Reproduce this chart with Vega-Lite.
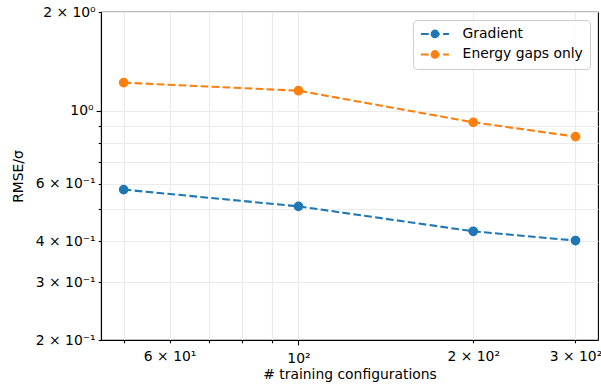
{
  "$schema": "https://vega.github.io/schema/vega-lite/v6.json",
  "width": 497,
  "height": 328,
  "autosize": {"type": "none"},
  "padding": {"left": 101, "top": 12, "right": 3, "bottom": 50},
  "config": {
    "font": "DejaVu Sans",
    "view": {"stroke": "black", "strokeWidth": 1.1},
    "axis": {
      "domainColor": "black",
      "domainWidth": 1.1,
      "tickColor": "black",
      "tickWidth": 1.1,
      "grid": true,
      "gridColor": "#ebebeb",
      "gridWidth": 1.1,
      "labelFont": "DejaVu Sans",
      "labelFontSize": 13.9,
      "labelColor": "black",
      "labelPadding": 3,
      "labelOverlap": false,
      "labelFlush": false,
      "titleFont": "DejaVu Sans",
      "titleFontSize": 13.9,
      "titleFontWeight": "normal",
      "titleColor": "black",
      "titlePadding": 5.6
    },
    "axisX": {"labelPadding": 7, "titlePadding": 2},
    "axisY": {"titlePadding": 9.5},
    "legend": {
      "orient": "none",
      "legendX": 312,
      "legendY": 8,
      "title": null,
      "padding": 7,
      "fillColor": "rgba(255,255,255,0.8)",
      "strokeColor": "#cccccc",
      "cornerRadius": 4,
      "labelFont": "DejaVu Sans",
      "labelFontSize": 13.9,
      "labelColor": "black",
      "labelOffset": 28.7,
      "rowPadding": 4.5,
      "symbolType": "M-1.2,0L0.36,0M1.02,0L2.56,0M3.22,0L4.4,0M0.94,0A0.66,0.66,0,1,0,2.26,0A0.66,0.66,0,1,0,0.94,0Z",
      "symbolSize": 100,
      "symbolStrokeWidth": 2.08,
      "symbolOpacity": 1
    }
  },
  "data": {
    "values": [
      {"series": "Gradient", "n": 50, "rmse": 0.575},
      {"series": "Gradient", "n": 100, "rmse": 0.511},
      {"series": "Gradient", "n": 200, "rmse": 0.429},
      {"series": "Gradient", "n": 300, "rmse": 0.402},
      {"series": "Energy gaps only", "n": 50, "rmse": 1.218},
      {"series": "Energy gaps only", "n": 100, "rmse": 1.151},
      {"series": "Energy gaps only", "n": 200, "rmse": 0.922},
      {"series": "Energy gaps only", "n": 300, "rmse": 0.834}
    ]
  },
  "encoding": {
    "x": {
      "field": "n",
      "type": "quantitative",
      "title": "# training configurations",
      "scale": {"type": "log", "domain": [45.7, 328], "nice": false},
      "axis": {
        "values": [50, 60, 70, 80, 90, 100, 200, 300],
        "labelExpr": "datum.value == 60 ? '6 × 10¹' : datum.value == 100 ? '10²' : datum.value == 200 ? '2 × 10²' : datum.value == 300 ? '3 × 10²' : ''",
        "tickSize": {"condition": {"test": "datum.value == 100", "value": 4.9}, "value": 2.8}
      }
    },
    "y": {
      "field": "rmse",
      "type": "quantitative",
      "title": "RMSE/σ",
      "scale": {"type": "log", "domain": [0.2, 2], "nice": false},
      "axis": {
        "values": [0.2, 0.3, 0.4, 0.5, 0.6, 0.7, 0.8, 0.9, 1, 2],
        "labelExpr": "datum.value == 2 ? '2 × 10⁰' : datum.value == 1 ? '10⁰' : datum.value == 0.6 ? '6 × 10⁻¹' : datum.value == 0.4 ? '4 × 10⁻¹' : datum.value == 0.3 ? '3 × 10⁻¹' : datum.value == 0.2 ? '2 × 10⁻¹' : ''",
        "tickSize": {"condition": {"test": "datum.value == 1", "value": 4.9}, "value": 2.8}
      }
    }
  },
  "layer": [
    {
      "mark": {"type": "line", "strokeWidth": 2.08, "strokeDash": [7.7, 3.3]},
      "encoding": {
        "stroke": {
          "field": "series",
          "type": "nominal",
          "scale": {"domain": ["Gradient", "Energy gaps only"], "range": ["#1f77b4", "#ff7f0e"]}
        }
      }
    },
    {
      "mark": {"type": "point", "shape": "circle", "filled": true, "size": 69, "opacity": 1, "strokeWidth": 1.39},
      "encoding": {
        "fill": {
          "field": "series",
          "type": "nominal",
          "scale": {"domain": ["Gradient", "Energy gaps only"], "range": ["#1f77b4", "#ff7f0e"]}
        },
        "stroke": {"field": "series", "type": "nominal"}
      }
    }
  ]
}
